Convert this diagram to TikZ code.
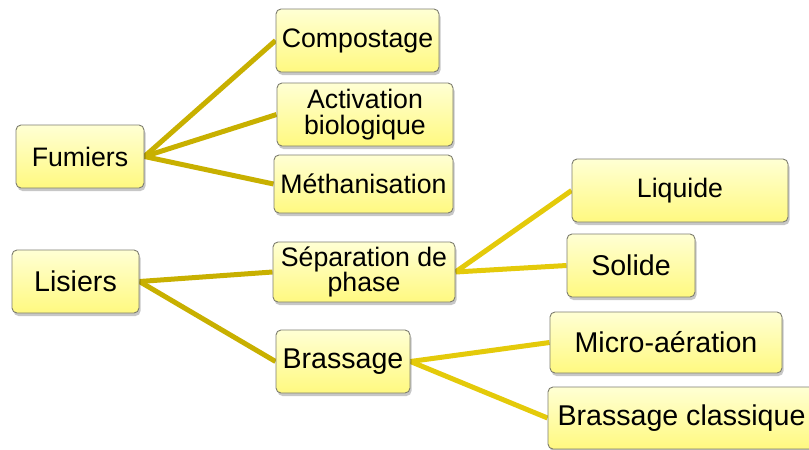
\documentclass[tikz,border=0pt]{standalone}
\usepackage{fontspec}
\setmainfont{Liberation Sans}
\usetikzlibrary{shadows}
\definecolor{boxtop}{RGB}{255,255,212}
\definecolor{boxbot}{RGB}{255,249,128}
\definecolor{boxline}{RGB}{125,125,110}
\definecolor{linkA}{RGB}{200,176,0}
\definecolor{linkB}{RGB}{228,202,10}
\pgfdeclarelayer{bg}
\pgfsetlayers{bg,main}
\tikzset{
  box/.style={draw=boxline, line width=0.9pt, rounded corners=5pt,
    top color=boxtop, bottom color=boxbot, inner sep=0pt, align=center,
    font=\fontsize{26.7}{25.5}\selectfont,
    drop shadow={shadow xshift=1.5pt, shadow yshift=-3pt, opacity=0.22, fill=black}},
  bigbox/.style={box, font=\fontsize{28.6}{27}\selectfont},
  linkone/.style={draw=linkA, line width=5pt},
  linktwo/.style={draw=linkB, line width=5pt},
}
\begin{document}
\begin{tikzpicture}[x=1pt,y=-1pt]
\useasboundingbox (0,0) rectangle (809,450);
\begin{scope}
\clip (0,0) rectangle (809,450);
\node[box, minimum width=128, minimum height=63] (fum) at (80,156.5) {Fumiers};
\node[bigbox, minimum width=127, minimum height=63] (lis) at (75.5,281.5) {Lisiers};
\node[box, minimum width=163, minimum height=63] (comp) at (357.5,40.5) {Compostage};
\node[box, minimum width=176, minimum height=63] (act) at (365,114.5) {Activation\\biologique};
\node[box, minimum width=179, minimum height=58] (meth) at (363.5,184) {Méthanisation};
\node[box, minimum width=182, minimum height=60] (sep) at (364,272) {Séparation de\\phase};
\node[bigbox, minimum width=134, minimum height=63] (bra) at (343,361.5) {Brassage};
\node[box, minimum width=216, minimum height=63] (liq) at (680,190.5) {Liquide};
\node[bigbox, minimum width=128, minimum height=63] (sol) at (631,265.5) {Solide};
\node[bigbox, minimum width=232, minimum height=61] (mic) at (666,342.5) {Micro-aération};
\node[bigbox, minimum width=267, minimum height=62] (bcl) at (681.5,418) {Brassage classique};
\end{scope}
\begin{pgfonlayer}{bg}
\draw[linkone] (fum.east) -- (comp.west);
\draw[linkone] (fum.east) -- (act.west);
\draw[linkone] (fum.east) -- (meth.west);
\draw[linkone] (lis.east) -- (sep.west);
\draw[linkone] (lis.east) -- (bra.west);
\draw[linktwo] (sep.east) -- (liq.west);
\draw[linktwo] (sep.east) -- (sol.west);
\draw[linktwo] (bra.east) -- (mic.west);
\draw[linktwo] (bra.east) -- (bcl.west);
\end{pgfonlayer}
\end{tikzpicture}
\end{document}
